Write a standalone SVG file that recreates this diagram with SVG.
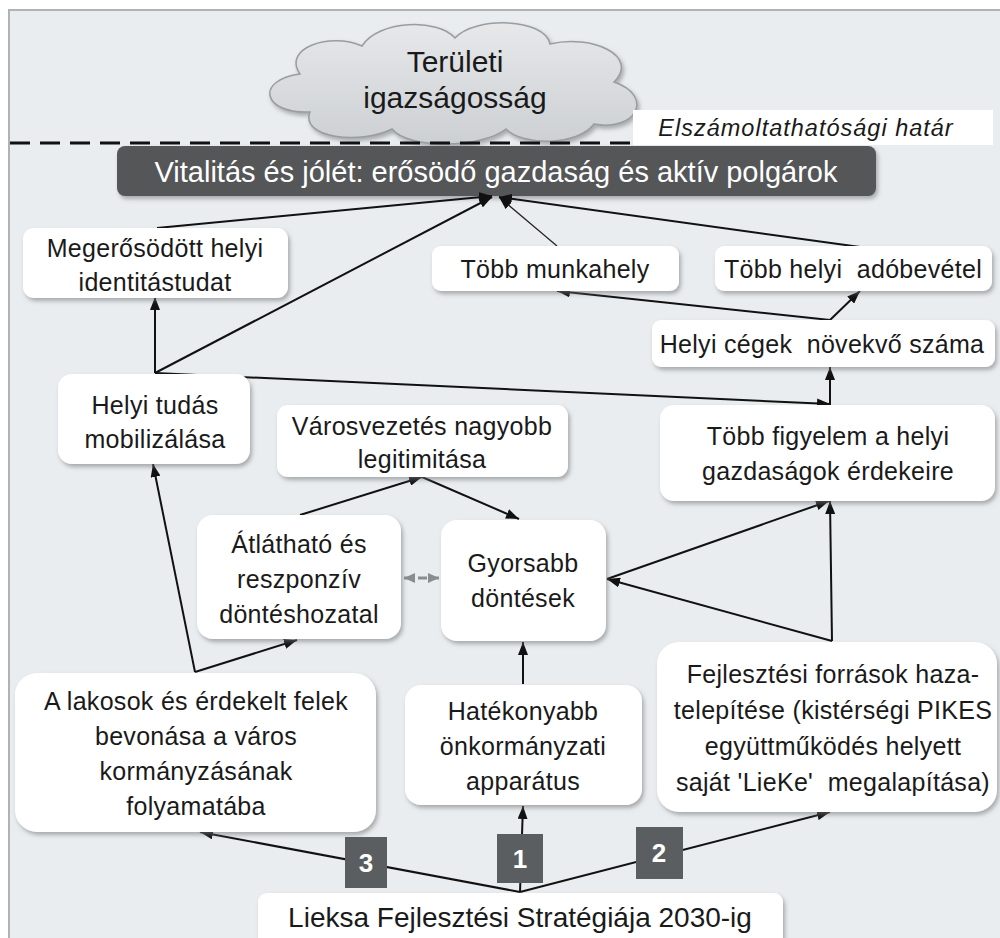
<svg xmlns="http://www.w3.org/2000/svg" width="1000" height="938" viewBox="0 0 1000 938">
<defs>
<style>
text{font-family:"Liberation Sans",Arial,sans-serif;fill:#1a1a1a;text-anchor:middle}
.n{font-size:25px;letter-spacing:0.3px}
.box{fill:#ffffff}
.c{stroke:#111;stroke-width:2;fill:none;marker-end:url(#ah)}
.thin{stroke:#222;stroke-width:1.2;fill:none;marker-end:url(#ah)}
.num{fill:#5b5e60}
.numt{font-size:26px;font-weight:bold;fill:#ffffff}
</style>
<marker id="ah" markerUnits="userSpaceOnUse" markerWidth="14" markerHeight="10" refX="13" refY="5" orient="auto">
<path d="M0,0 L13,5 L0,10 Z" fill="#111"/>
</marker>
<marker id="gh" markerUnits="userSpaceOnUse" markerWidth="12" markerHeight="10" refX="11" refY="5" orient="auto-start-reverse">
<path d="M0,0 L11,5 L0,10 Z" fill="#8a8d90"/>
</marker>
<filter id="sh" x="-10%" y="-10%" width="125%" height="135%">
<feDropShadow dx="2" dy="3" stdDeviation="2" flood-color="#6f7275" flood-opacity="0.55"/>
</filter>
<linearGradient id="cg" x1="0" y1="0" x2="0" y2="1">
<stop offset="0" stop-color="#e6e8ea"/>
<stop offset="1" stop-color="#cdd0d3"/>
</linearGradient>
</defs>
<rect x="0" y="0" width="1000" height="938" fill="#ffffff"/>
<rect x="8" y="9" width="992" height="929" fill="#e9edf0"/>
<line x1="8" y1="10" x2="1000" y2="10" stroke="#b0b3b5" stroke-width="2"/>
<line x1="9" y1="9" x2="9" y2="938" stroke="#b0b3b5" stroke-width="2"/>

<g id="cloud">
<path d="M310 112 C262 114 255 80 300 74 C282 48 330 32 362 46 C378 20 438 18 455 38 C475 16 545 18 550 44 C592 34 640 56 614 82 C655 96 636 132 594 124 C578 146 522 146 506 129 C480 149 408 149 392 129 C360 145 300 138 310 112 Z" fill="url(#cg)" stroke="#9a9da0" stroke-width="1.5" filter="url(#sh)"/>
<text x="455" y="72" style="font-size:30px">Területi</text>
<text x="455" y="108" style="font-size:30px">igazságosság</text>
</g>

<g id="boundary">
<line x1="10" y1="143" x2="1000" y2="143" stroke="#111" stroke-width="3" stroke-dasharray="20,10"/>
<rect x="633" y="110" width="360" height="35" fill="#ffffff"/>
<text x="806" y="136" style="font-size:23.5px;font-style:italic;letter-spacing:1px">Elszámoltathatósági határ</text>
</g>

<g id="vitalitas">
<rect x="117" y="146" width="759" height="50" rx="8" fill="#545758" filter="url(#sh)"/>
<text x="496" y="182" style="font-size:29px;fill:#ffffff">Vitalitás és jólét:  erősödő gazdaság és aktív polgárok</text>
</g>

<g id="connectors">
<line class="c" x1="157" y1="228" x2="492" y2="196"/>
<line class="c" x1="155" y1="373" x2="492" y2="197"/>
<line class="thin" x1="557" y1="246" x2="499" y2="197"/>
<line class="c" x1="860" y1="247" x2="499" y2="197"/>
<line class="c" x1="155" y1="373" x2="155" y2="297"/>
<line class="c" x1="155" y1="373" x2="830" y2="404"/>
<line class="c" x1="830" y1="320" x2="557" y2="291"/>
<line class="c" x1="830" y1="320" x2="860" y2="291"/>
<line class="c" x1="830" y1="405" x2="830" y2="367"/>
<line class="c" x1="300" y1="515" x2="422" y2="477"/>
<line class="c" x1="422" y1="477" x2="519" y2="519"/>
<line x1="404" y1="578" x2="439" y2="578" stroke="#8a8d90" stroke-width="3" stroke-dasharray="9,5" marker-start="url(#gh)" marker-end="url(#gh)"/>
<line class="c" x1="832" y1="641" x2="607" y2="579"/>
<line class="c" x1="607" y1="579" x2="829" y2="501"/>
<line class="c" x1="832" y1="641" x2="830" y2="501"/>
<line class="c" x1="523" y1="684" x2="523" y2="642"/>
<line class="c" x1="195" y1="672" x2="153" y2="464"/>
<line class="c" x1="195" y1="672" x2="297" y2="640"/>
<line class="c" x1="520" y1="892" x2="200" y2="832"/>
<line class="c" x1="520" y1="892" x2="523" y2="806"/>
<line class="c" x1="520" y1="892" x2="830" y2="812"/>
</g>

<g id="megerosodott">
<rect class="box" x="23" y="228" width="265" height="70" rx="11" filter="url(#sh)"/>
<text class="n" x="155" y="257">Megerősödött helyi</text>
<text class="n" x="155" y="291">identitástudat</text>
</g>

<g id="munkahely">
<rect class="box" x="432" y="246" width="247" height="45" rx="9" filter="url(#sh)"/>
<text class="n" x="555" y="278">Több munkahely</text>
</g>

<g id="adobevetel">
<rect class="box" x="715" y="246" width="277" height="45" rx="9" filter="url(#sh)"/>
<text class="n" x="853" y="278" xml:space="preserve">Több helyi  adóbevétel</text>
</g>

<g id="cegek">
<rect class="box" x="652" y="320" width="343" height="47" rx="9" filter="url(#sh)"/>
<text class="n" x="822" y="353" xml:space="preserve">Helyi cégek  növekvő száma</text>
</g>

<g id="tudas">
<rect class="box" x="58" y="374" width="192" height="90" rx="14" filter="url(#sh)"/>
<text class="n" x="155" y="414">Helyi tudás</text>
<text class="n" x="155" y="448">mobilizálása</text>
</g>

<g id="legitimitas">
<rect class="box" x="277" y="405" width="291" height="72" rx="11" filter="url(#sh)"/>
<text class="n" x="422" y="435">Városvezetés nagyobb</text>
<text class="n" x="422" y="468">legitimitása</text>
</g>

<g id="figyelem">
<rect class="box" x="660" y="405" width="335" height="96" rx="14" filter="url(#sh)"/>
<text class="n" x="828" y="445">Több figyelem a helyi</text>
<text class="n" x="828" y="480">gazdaságok érdekeire</text>
</g>

<g id="atlathato">
<rect class="box" x="197" y="515" width="204" height="124" rx="16" filter="url(#sh)"/>
<text class="n" x="299" y="553">Átlátható és</text>
<text class="n" x="299" y="588">reszponzív</text>
<text class="n" x="299" y="623">döntéshozatal</text>
</g>

<g id="gyorsabb">
<rect class="box" x="441" y="520" width="165" height="121" rx="16" filter="url(#sh)"/>
<text class="n" x="523" y="572">Gyorsabb</text>
<text class="n" x="523" y="607">döntések</text>
</g>

<g id="lakosok">
<rect class="box" x="15" y="673" width="361" height="159" rx="22" filter="url(#sh)"/>
<text class="n" x="196" y="710">A lakosok és érdekelt felek</text>
<text class="n" x="196" y="745">bevonása a város</text>
<text class="n" x="196" y="780">kormányzásának</text>
<text class="n" x="196" y="815">folyamatába</text>
</g>

<g id="hatekonyabb">
<rect class="box" x="405" y="685" width="237" height="120" rx="16" filter="url(#sh)"/>
<text class="n" x="523" y="720">Hatékonyabb</text>
<text class="n" x="523" y="755">önkormányzati</text>
<text class="n" x="523" y="790">apparátus</text>
</g>

<g id="fejlesztesi">
<rect class="box" x="657" y="642" width="340" height="170" rx="22" filter="url(#sh)"/>
<text class="n" x="833" y="683">Fejlesztési források haza-</text>
<text class="n" x="833" y="719">telepítése (kistérségi PIKES</text>
<text class="n" x="833" y="755">együttműködés helyett</text>
<text class="n" x="833" y="791" xml:space="preserve">saját 'LieKe'  megalapítása)</text>
</g>

<g id="num3">
<rect class="num" x="345" y="837" width="42" height="51"/>
<text class="numt" x="366" y="872">3</text>
</g>
<g id="num1">
<rect class="num" x="497" y="834" width="46" height="49"/>
<text class="numt" x="520" y="868">1</text>
</g>
<g id="num2">
<rect class="num" x="636" y="827" width="47" height="52"/>
<text class="numt" x="659" y="862">2</text>
</g>

<g id="lieksa">
<rect class="box" x="258" y="893" width="525" height="60" rx="9" filter="url(#sh)"/>
<text x="520" y="927" style="font-size:28px">Lieksa Fejlesztési Stratégiája 2030-ig</text>
</g>
</svg>
